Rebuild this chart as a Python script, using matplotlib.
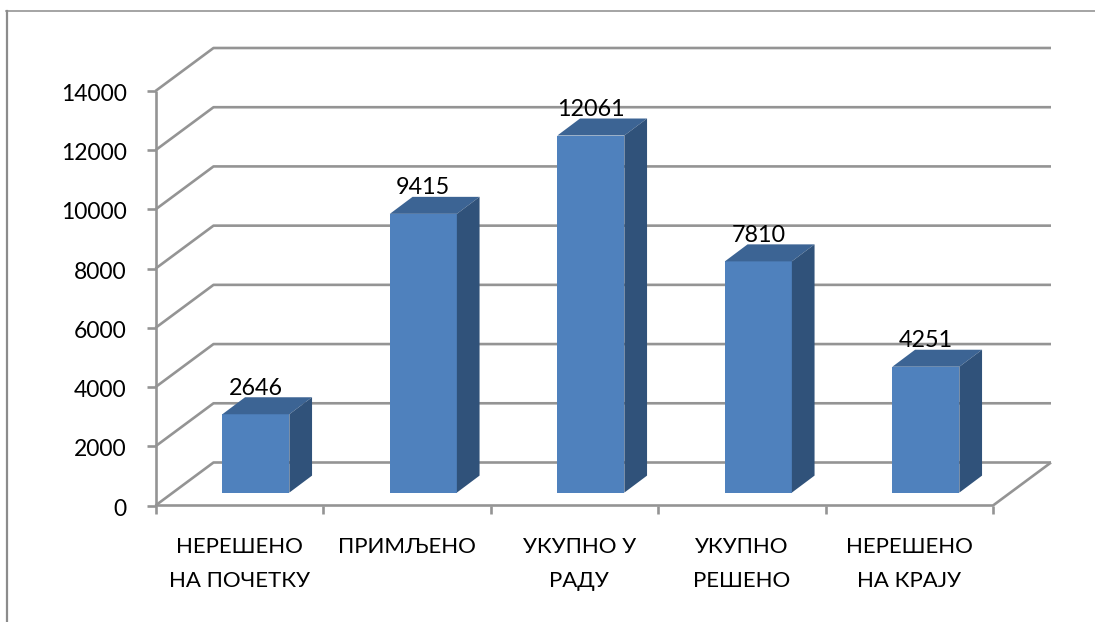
import matplotlib
matplotlib.use("Agg")
import matplotlib.pyplot as plt
from matplotlib.patches import Polygon

categories = ["НЕРЕШЕНО\nНА ПОЧЕТКУ", "ПРИМЉЕНО", "УКУПНО У\nРАДУ", "УКУПНО\nРЕШЕНО", "НЕРЕШЕНО\nНА КРАЈУ"]
values = [2646, 9415, 12061, 7810, 4251]
y_ticks = [0, 2000, 4000, 6000, 8000, 10000, 12000, 14000]

W, H = 1095, 622
# front plane of the 3d box, in pixels
LEFT, RIGHT, TOP, BOTTOM = 155.5, 993, 91, 505.5
# depth of the box in pixels
DEPTH_X, DEPTH_Y = 58, 43
GRID = "#949494"
FRONT, ROOF, SIDE = "#4f81bd", "#3c6494", "#30527a"

plt.rcParams['font.family'] = ['Lato', 'DejaVu Sans']

fig = plt.figure(figsize=(W / 100, H / 100), dpi=100)
ax = fig.add_axes([LEFT / W, 1 - BOTTOM / H, (RIGHT - LEFT) / W, (BOTTOM - TOP) / H])
ax.set_xlim(0, len(categories))
ax.set_ylim(0, y_ticks[-1])
ax.axis("off")

# pixel lengths turned into data units
px_x = len(categories) / (RIGHT - LEFT)
px_y = y_ticks[-1] / (BOTTOM - TOP)
dx, dy = DEPTH_X * px_x, DEPTH_Y * px_y


def line(xs, ys, lw=1.9, z=1):
    ax.plot(xs, ys, color=GRID, lw=lw, clip_on=False, zorder=z, solid_capstyle="butt")


# walls
for t in y_ticks:
    line([0, dx, len(categories) + dx], [t, t + dy, t + dy])
    line([-9 * px_x, 0], [t, t])
line([0, 0], [0, y_ticks[-1]])
line([0, len(categories), len(categories) + dx], [0, 0, dy])
for i in range(len(categories) + 1):
    line([i, i], [0, -8 * px_y])

# bars
bar_w = 67 * px_x
b_dx, b_dy = 22.7 * px_x, 17 * px_y
base = 12.9 * px_y
shift = 16.6 * px_x
for i, v in enumerate(values):
    x0 = i + 0.5 + shift - bar_w / 2
    x1 = x0 + bar_w
    top = base + v
    ax.bar(x0, v, bar_w, bottom=base, align="edge", color=FRONT, zorder=3, clip_on=False)
    ax.add_patch(Polygon([(x0, top), (x1, top), (x1 + b_dx, top + b_dy), (x0 + b_dx, top + b_dy)],
                         color=ROOF, zorder=3, clip_on=False, lw=0))
    ax.add_patch(Polygon([(x1, base), (x1 + b_dx, base + b_dy), (x1 + b_dx, top + b_dy), (x1, top)],
                         color=SIDE, zorder=3, clip_on=False, lw=0))
    ax.text(i + 0.5 + shift, top + b_dy + 2.5 * px_y, str(v), ha="center", va="baseline",
            fontsize=16.8, color="black", zorder=4)

for t in y_ticks:
    ax.text(-29 * px_x, t - 10 * px_y, str(t), ha="right", va="baseline", fontsize=16.5, color="black")

for i, c in enumerate(categories):
    nudge = 5 * px_x if i == 2 else 0
    ax.text(i + 0.5 + nudge, -47.5 * px_y, c.split("\n")[0], ha="center", va="baseline", fontsize=16, color="black")
    if "\n" in c:
        ax.text(i + 0.5 + nudge, -81.5 * px_y, c.split("\n")[1], ha="center", va="baseline", fontsize=16, color="black")

# chart frame, only left and top edges show
fig.add_artist(plt.Line2D([6.7 / W, 6.7 / W], [0, 1 - 10.5 / H], color="#8c8c8c", lw=1.6))
fig.add_artist(plt.Line2D([6 / W, 1], [1 - 11 / H, 1 - 11 / H], color="#8c8c8c", lw=1.1))

fig.savefig("out.png", dpi=100)
